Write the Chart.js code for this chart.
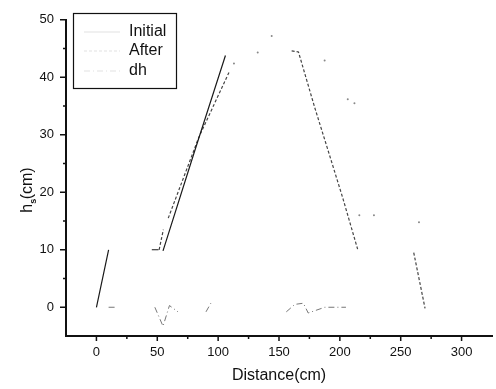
<!DOCTYPE html>
<html>
<head>
<meta charset="utf-8">
<script src="https://cdn.jsdelivr.net/npm/chart.js@4.4.1/dist/chart.umd.min.js"></script>
<style>
  html, body { margin: 0; padding: 0; background: #fff; }
  #wrap { width: 496px; height: 389px; }
</style>
</head>
<body>
<div id="wrap"><canvas id="c" width="496" height="389"></canvas></div>
<script>
// values (Distance in cm, h_s in cm)
const initialX = [0, 10, 28, 45.5, 51, 53, 54.7, 80, 106];
const initialY = [0, 10, null, 10, 10, null, 9.8, 26.7, 43.8];

const afterX = [51.5, 55, 57, 59, 84, 109, 135, 160.4, 166, 179.4, 191.6, 202.4, 214.6, 238, 260.7, 270];
const afterY = [10, 13.5, null, 15.5, 29.5, 40.9, null, 44.6, 44.4, 34.7, 26.4, 19, 10.1, null, 9.5, -0.2];

const dhX = [10, 15, 30, 48, 54.7, 60, 67, 78, 90, 94, 125, 156, 163, 170, 174, 187.6, 205];
const dhY = [0, 0, null, 0, -3.3, 0.3, -0.8, null, -0.8, 0.7, null, -0.8, 0.5, 0.7, -1, 0, 0];

// leftover specks of the faded peak line
const traceX = [113, 132.5, 144, 187.5, 206.5, 212, 216, 228, 265];
const traceY = [42.4, 44.3, 47.2, 42.9, 36.2, 35.5, 16, 16, 14.8];

const xMajor = [0, 50, 100, 150, 200, 250, 300];
const xMinor = [25, 75, 125, 175, 225, 275];
const yMajor = [0, 10, 20, 30, 40, 50];
const yMinor = [5, 15, 25, 35, 45];

const FONT = "'Liberation Sans', Arial, sans-serif";
const INK = '#111';

const pts = (xs, ys) => xs.map((x, i) => ({ x, y: ys[i] }));

const decor = {
  id: 'decor',
  afterDraw(chart) {
    const { ctx, chartArea: a, scales: { x, y } } = chart;
    ctx.save();
    ctx.strokeStyle = INK;
    ctx.lineWidth = 1.5;
    ctx.beginPath();
    for (const v of xMajor) { const p = x.getPixelForValue(v); ctx.moveTo(p, a.bottom); ctx.lineTo(p, a.bottom + 5); }
    for (const v of xMinor) { const p = x.getPixelForValue(v); ctx.moveTo(p, a.bottom); ctx.lineTo(p, a.bottom + 3); }
    for (const v of yMajor) { const p = y.getPixelForValue(v); ctx.moveTo(a.left, p); ctx.lineTo(a.left - 6, p); }
    for (const v of yMinor) { const p = y.getPixelForValue(v); ctx.moveTo(a.left, p); ctx.lineTo(a.left - 3, p); }
    ctx.stroke();

    // axis titles
    ctx.fillStyle = INK;
    ctx.font = `16px ${FONT}`;
    ctx.textAlign = 'center';
    ctx.textBaseline = 'middle';
    ctx.fillText('Distance(cm)', (a.left + a.right) / 2, 376);

    ctx.save();
    ctx.translate(26, 190);
    ctx.rotate(-Math.PI / 2);
    ctx.textAlign = 'left';
    ctx.textBaseline = 'alphabetic';
    const wh = ctx.measureText('h').width;
    ctx.font = `9px ${FONT}`;
    const ws = ctx.measureText('s').width;
    ctx.font = `16px ${FONT}`;
    const wc = ctx.measureText('(cm)').width;
    let sx = -(wh + ws + wc) / 2;
    ctx.fillText('h', sx, 6);
    ctx.font = `bold 9px ${FONT}`;
    ctx.fillText('s', sx + wh, 10);
    ctx.font = `16px ${FONT}`;
    ctx.fillText('(cm)', sx + wh + ws, 6);
    ctx.restore();

    // legend box
    ctx.lineWidth = 1.2;
    ctx.strokeRect(73.5, 13.5, 103, 75);
    ctx.font = `16px ${FONT}`;
    ctx.textAlign = 'left';
    const rows = [32, 51, 71];
    chart.data.datasets.slice(0, 3).forEach((ds, i) => {
      ctx.setLineDash(ds.borderDash || []);
      ctx.strokeStyle = 'rgba(0,0,0,0.12)';
      ctx.lineWidth = 1;
      ctx.beginPath();
      ctx.moveTo(84, rows[i]);
      ctx.lineTo(120, rows[i]);
      ctx.stroke();
      ctx.setLineDash([]);
      ctx.fillStyle = INK;
      ctx.fillText(ds.label, 129, rows[i]);
    });
    ctx.restore();
  },
};

new Chart(document.getElementById('c'), {
  type: 'line',
  data: {
    datasets: [
      {
        label: 'Initial',
        data: pts(initialX, initialY),
        borderColor: '#1a1a1a',
        borderWidth: 1.2,
        pointRadius: 0,
      },
      {
        label: 'After',
        data: pts(afterX, afterY),
        borderColor: '#444',
        borderWidth: 1.2,
        borderDash: [3, 2],
        pointRadius: 0,
      },
      {
        label: 'dh',
        data: pts(dhX, dhY),
        borderColor: '#777',
        borderWidth: 1,
        borderDash: [6, 3, 1, 3],
        pointRadius: 0,
      },
      {
        label: 'traces',
        data: pts(traceX, traceY),
        showLine: false,
        pointRadius: 1,
        pointBorderWidth: 0,
        pointBackgroundColor: '#888',
      },
    ],
  },
  options: {
    responsive: false,
    devicePixelRatio: 1,
    animation: false,
    spanGaps: false,
    layout: { padding: { top: 13, right: 0, left: 0, bottom: 0 } },
    plugins: { legend: { display: false }, tooltip: { enabled: false } },
    scales: {
      x: {
        type: 'linear',
        min: -25,
        max: 325,
        afterBuildTicks: (s) => { s.ticks = xMajor.map((v) => ({ value: v })); },
        afterFit: (s) => { s.height = 53; },
        grid: { display: false, drawTicks: false, tickLength: 0 },
        border: { display: true, color: INK, width: 2 },
        ticks: { color: INK, font: { family: FONT, size: 13 }, padding: 9 },
      },
      y: {
        min: -5,
        max: 50,
        afterBuildTicks: (s) => { s.ticks = yMajor.map((v) => ({ value: v })); },
        afterFit: (s) => { s.width = 66; },
        grid: { display: false, drawTicks: false, tickLength: 0 },
        border: { display: true, color: INK, width: 2 },
        ticks: { color: INK, font: { family: FONT, size: 13 }, padding: 12 },
      },
    },
  },
  plugins: [decor],
});
</script>
</body>
</html>
